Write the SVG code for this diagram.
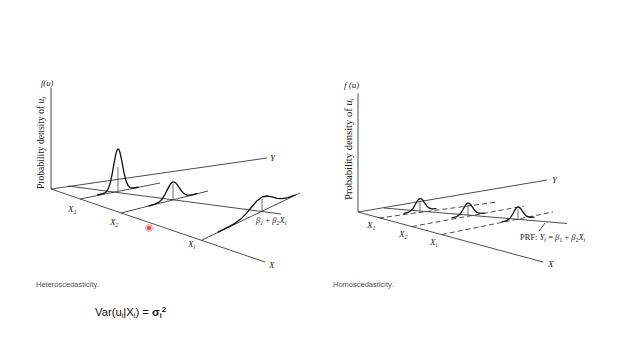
<svg xmlns="http://www.w3.org/2000/svg" width="640" height="360" viewBox="0 0 640 360">
<style>
.ax{stroke:#3a3a3a;stroke-width:0.9;fill:none}
.ds{stroke:#3a3a3a;stroke-width:0.9;fill:none;stroke-dasharray:5 3}
.cv{stroke:#111;stroke-width:1.3;fill:none;stroke-linejoin:round;stroke-linecap:round}
.vl{stroke:#444;stroke-width:0.8}
.lb{font-family:"Liberation Serif",serif;font-style:italic;fill:#222}
.tx{font-family:"Liberation Serif",serif;fill:#222}
.cap{font-family:"Liberation Sans",Arial,sans-serif;font-size:7.5px;fill:#555}
</style>
<defs>
<path id="bell" d="M-16,2.38 L-12,1.44 L-9,-0.34 L-7,-2.67 L-5,-5.99 L-3,-9.56 L-1.5,-11.6 L0,-12.5 L1.5,-12.05 L3,-10.45 L5,-7.49 L7,-4.77 L9,-3.04 L12,-2.16 L16,-2.42"/>
</defs>
<rect width="640" height="360" fill="#fff"/>

<!-- LEFT: Heteroscedasticity -->
<g id="left-connectors">
<line class="ax" x1="51" y1="88" x2="51" y2="189"/>
<line class="ax" x1="51" y1="189" x2="267" y2="158"/>
<line class="ax" x1="51" y1="189" x2="265" y2="262"/>
<line class="ax" x1="68" y1="186" x2="281" y2="214"/>
<line class="ax" x1="80" y1="199" x2="160" y2="183"/>
<line class="ax" x1="121" y1="213" x2="208" y2="191"/>
<line class="ax" x1="202" y1="240" x2="300" y2="193"/>
</g>
<g id="left-curve-1">
<polyline class="cv" points="98,194.75 103,193.6 106,192.05 108,189.3 110,183.85 112,174.8 114,163.45 116,153.4 117,150.2 118,149 119,149.8 120,152.6 122,161.95 124,172.6 126,180.85 128,185.55 130,187.55 133,188 138,187.25"/>
<line class="vl" x1="118" y1="167" x2="118" y2="191"/>
</g>
<g id="left-curve-2">
<polyline class="cv" points="149,205.9 155,204.15 159,202.15 162,199.2 165,194.4 168,188.35 170.5,183.9 173,181.8 175.5,182.67 178,185.8 181,190.4 184,193.65 187,195.07 191,195.05 197,193.7"/>
<line class="vl" x1="173" y1="184" x2="173" y2="200"/>
</g>
<g id="left-curve-3">
<polyline class="cv" points="218,232.1 229,226.7 236,222.6 242,217.9 247,212.7 252,206.5 257,200.8 262,197 267,196 272,196.9 277,198.3 282,198.7 288,197.66 295,195"/>
<line class="vl" x1="262" y1="199" x2="262" y2="211"/>
</g>
<g id="left-labels">
<text class="lb" x="41" y="86" font-size="8.5">f(u)</text>
<text class="tx" font-size="9.6" transform="translate(44,189) rotate(-90)">Probability density of <tspan font-style="italic">u</tspan><tspan font-style="italic" font-size="6.5" dy="2">i</tspan></text>
<text class="lb" x="270" y="161" font-size="9">Y</text>
<text class="lb" x="269" y="268" font-size="9">X</text>
<text class="lb" x="68" y="212" font-size="9">X<tspan font-size="6" dy="2">1</tspan></text>
<text class="lb" x="110" y="225" font-size="9">X<tspan font-size="6" dy="2">2</tspan></text>
<text class="lb" x="188" y="247" font-size="9">X<tspan font-size="6" dy="2">i</tspan></text>
<text class="lb" x="256" y="223" font-size="8.5">β<tspan font-size="6" dy="2">1</tspan><tspan dy="-2" font-style="normal"> + </tspan>β<tspan font-size="6" dy="2">2</tspan><tspan dy="-2">X</tspan><tspan font-size="6" dy="2">i</tspan></text>
</g>
<text class="cap" x="36" y="287">Heteroscedasticity.</text>
<g id="var-formula">
<text x="95" y="316" font-family="'Liberation Sans',Arial,sans-serif" font-size="11.3" fill="#111">Var(u<tspan font-size="7" dy="2">i</tspan><tspan dy="-2">|X</tspan><tspan font-size="7" dy="2">i</tspan><tspan dy="-2">) = </tspan><tspan font-weight="bold">σ</tspan><tspan font-size="7" font-weight="bold" dy="2">i</tspan><tspan font-size="8" font-weight="bold" dy="-6">2</tspan></text>
</g>
<g id="pointer"><circle cx="149" cy="228" r="4" fill="#f5b8b8"/><circle cx="149" cy="228" r="2" fill="#d84848"/></g>

<!-- RIGHT: Homoscedasticity -->
<g id="right-connectors">
<line class="ax" x1="358" y1="93" x2="358" y2="212"/>
<line class="ax" x1="358" y1="212" x2="547" y2="180"/>
<line class="ax" x1="358" y1="212" x2="543" y2="262"/>
<line class="ax" x1="384" y1="208" x2="567" y2="223.5"/>
<line class="ds" x1="379" y1="218" x2="497" y2="202"/>
<line class="ds" x1="412" y1="226.5" x2="524" y2="206"/>
<line class="ds" x1="442" y1="234.5" x2="553" y2="212"/>
<line class="ax" x1="539" y1="231" x2="545" y2="223"/>
</g>
<g id="right-curve-1">
<use href="#bell" class="cv" x="420" y="211"/>
<line class="vl" x1="420" y1="201" x2="420" y2="211"/>
</g>
<g id="right-curve-2">
<use href="#bell" class="cv" x="468" y="215.5"/>
<line class="vl" x1="468" y1="205.5" x2="468" y2="215.5"/>
</g>
<g id="right-curve-3">
<use href="#bell" class="cv" x="518" y="219.5"/>
<line class="vl" x1="518" y1="209.5" x2="518" y2="219.5"/>
</g>
<g id="right-labels">
<text class="lb" x="344" y="88" font-size="9">f (u)</text>
<text class="tx" font-size="10.6" transform="translate(352,200) rotate(-90)">Probability density of <tspan font-style="italic">u</tspan><tspan font-style="italic" font-size="7" dy="2">i</tspan></text>
<text class="lb" x="552" y="183" font-size="9">Y</text>
<text class="lb" x="548" y="267" font-size="9">X</text>
<text class="lb" x="367" y="228" font-size="9">X<tspan font-size="6" dy="2">1</tspan></text>
<text class="lb" x="399" y="237" font-size="9">X<tspan font-size="6" dy="2">2</tspan></text>
<text class="lb" x="430" y="245" font-size="9">X<tspan font-size="6" dy="2">i</tspan></text>
<text class="tx" x="520" y="240" font-size="8.5">PRF: <tspan font-style="italic">Y</tspan><tspan font-size="6" font-style="italic" dy="2">i</tspan><tspan dy="-2"> = </tspan><tspan font-style="italic">β</tspan><tspan font-size="6" dy="2">1</tspan><tspan dy="-2"> + </tspan><tspan font-style="italic">β</tspan><tspan font-size="6" dy="2">2</tspan><tspan font-style="italic" dy="-2">X</tspan><tspan font-size="6" font-style="italic" dy="2">i</tspan></text>
</g>
<text class="cap" x="333" y="287">Homoscedasticity.</text>
</svg>
